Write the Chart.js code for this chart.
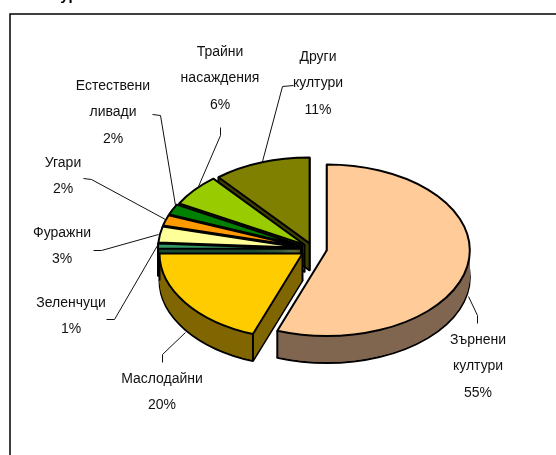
<!DOCTYPE html>
<html><head><meta charset="utf-8">
<style>html,body{margin:0;padding:0;background:#fff;overflow:hidden}#wrap{position:relative;width:556px;height:455px;overflow:hidden}
#head{position:absolute;left:32px;top:-14px;font:bold 15px "Liberation Sans",Arial,sans-serif;color:#000;white-space:nowrap}
canvas{display:block}</style>
<script src="https://cdn.jsdelivr.net/npm/chart.js@4"></script></head>
<body><div id="wrap"><canvas id="c" width="556" height="455"></canvas><div id="head">Фигура</div></div>
<script>
const categories=[["Зърнени","култури"],["Маслодайни"],["Зеленчуци"],["Фуражни"],["Угари"],["Естествени","ливади"],["Трайни","насаждения"],["Други","култури"]];
const shares=[55,20,1,3,2,2,6,11];
const topColors=["#FFCC99","#FFCC00","#339966","#FFFF99","#FF9900","#008000","#99CC00","#808000"];
const wallColors=["#806650","#806600","#1A4D33","#80804D","#804D00","#004000","#4D6600","#404000"];
const explode=[14,13,12,12,12,12,11,10];
const labelCenters=[[478,340],[162,379],[71,303],[62,233],[63,163],[113,86],[220,52],[318,57]];
const leaderPaths=[[[477,323],[477,315],[468,296]],[[162,362],[162,354],[185,332]],[[106,319],[114,319],[157,245]],[[93,250],[101,250],[158,234]],[[83,178],[91,179],[165,219]],[[152,114],[160,115],[175,205]],[[220,127],[220,135],[198,186]],[[293,85],[282,86],[262,161]]];
const tilt=0.6,depth=27,lineH=26.5,perspective=2.5*Math.PI/180;
const warp=t=>{const s=Math.max(0,Math.sin(t));return t+perspective*s*s;};
const pie3d={id:'pie3d',
 beforeDatasetsDraw(chart){
  const ctx=chart.ctx,arcs=chart.getDatasetMeta(0).data;
  const pos=arcs.map((a,i)=>{const m=(a.startAngle+a.endAngle)/2;return{x:a.x+Math.cos(m)*explode[i],y:a.y+Math.sin(m)*explode[i]*tilt,r:a.outerRadius,s:warp(a.startAngle),e:warp(a.endAngle)}});
  const path=(p,dz)=>{ctx.beginPath();ctx.moveTo(p.x,p.y+dz);ctx.ellipse(p.x,p.y+dz,p.r,p.r*tilt,0,p.s,p.e);ctx.closePath();};
  ctx.save();ctx.lineJoin='round';ctx.strokeStyle='#000';ctx.lineWidth=2;
  [7,6,5,4,3,2,1,0].forEach(i=>{const p=pos[i];
   path(p,depth);ctx.fillStyle=wallColors[i];ctx.fill();ctx.stroke();
   for(let d=depth-1;d>0;d--){path(p,d);ctx.fill();}
   [[p.x,p.y],[p.x+Math.cos(p.s)*p.r,p.y+Math.sin(p.s)*p.r*tilt],[p.x+Math.cos(p.e)*p.r,p.y+Math.sin(p.e)*p.r*tilt]].forEach(v=>{ctx.beginPath();ctx.moveTo(v[0],v[1]);ctx.lineTo(v[0],v[1]+depth);ctx.stroke();});
   path(p,0);ctx.fillStyle=topColors[i];ctx.fill();ctx.stroke();
  });
  ctx.restore();
  return false;
 },
 afterDraw(chart){
  const ctx=chart.ctx;
  ctx.save();
  ctx.strokeStyle='#000';ctx.lineWidth=1.5;
  ctx.beginPath();ctx.moveTo(10,456);ctx.lineTo(10,14);ctx.lineTo(557,14);ctx.stroke();
  ctx.lineWidth=1;ctx.strokeStyle='#111';
  leaderPaths.forEach(pts=>{ctx.beginPath();pts.forEach((q,j)=>j?ctx.lineTo(q[0]+.5,q[1]+.5):ctx.moveTo(q[0]+.5,q[1]+.5));ctx.stroke();});
  ctx.fillStyle='#111';ctx.font='14px "Liberation Sans",Arial,sans-serif';ctx.textAlign='center';ctx.textBaseline='middle';
  categories.forEach((lines,i)=>{const [x,y]=labelCenters[i];
   [...lines,shares[i]+'%'].forEach((t,j)=>ctx.fillText(t,x,y+j*lineH));});
  ctx.restore();
 }};
new Chart(document.getElementById('c'),{type:'pie',plugins:[pie3d],
 data:{labels:categories.map(l=>l.join(' ')),datasets:[{data:shares,backgroundColor:topColors,borderColor:'#000',borderWidth:1}]},
 options:{responsive:false,animation:false,radius:143,rotation:0,layout:{padding:{left:70,top:43}},
  plugins:{legend:{display:false},tooltip:{enabled:false},title:{display:false}}}});
</script></body></html>
